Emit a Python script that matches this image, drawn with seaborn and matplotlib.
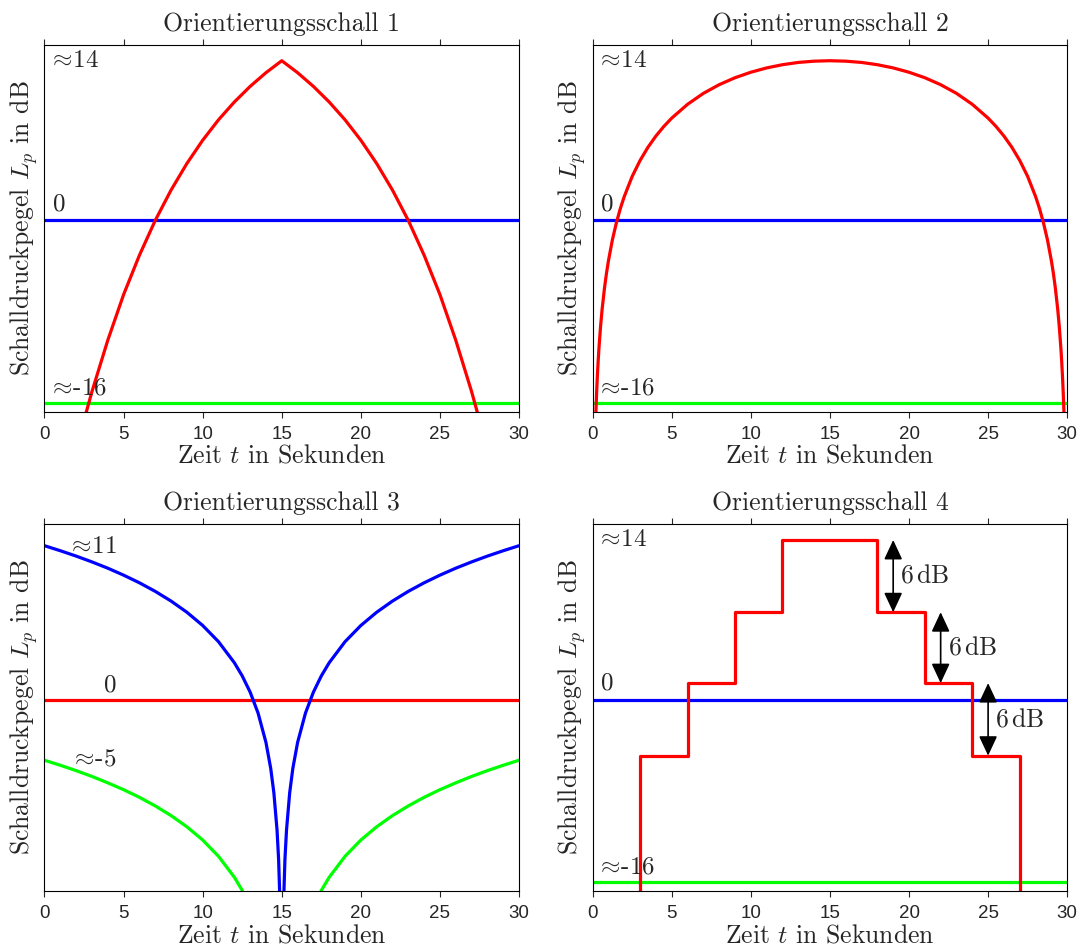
import matplotlib
matplotlib.use("Agg")
import matplotlib.pyplot as plt
import seaborn as sns

# ---------------------------
# Data (level in dB over time in s)
# ---------------------------
t_span = [0, 30]
level_zero = [0.0, 0.0]
level_floor = [-16.0, -16.0]

# Orientierungsschall 1: cusp at 15 s
t_cusp = [2.5, 3, 4, 5, 6, 7, 8, 9, 10, 11, 12, 13, 14, 15,
          16, 17, 18, 19, 20, 21, 22, 23, 24, 25, 26, 27, 27.5]
L_cusp = [-17.5, -15.0, -10.5, -6.5, -3.05, 0.0, 2.66, 4.99, 7.03, 8.82, 10.38, 11.75, 12.95, 14.0,
          12.95, 11.75, 10.38, 8.82, 7.03, 4.99, 2.66, 0.0, -3.05, -6.5, -10.5, -15.0, -17.5]

# Orientierungsschall 2: dome
t_dome = [0.15, 0.2, 0.25, 0.3, 0.35, 0.4, 0.5, 0.6, 0.75, 0.875, 1, 1.25, 1.5, 1.75, 2, 2.5, 3, 3.5,
          4, 4.5, 5, 6, 7, 8, 9, 10, 11, 12, 13, 14, 15,
          16, 17, 18, 19, 20, 21, 22, 23, 24, 25, 25.5, 26, 26.5, 27, 27.5, 28, 28.25, 28.5, 28.75,
          29, 29.125, 29.25, 29.4, 29.5, 29.6, 29.65, 29.7, 29.75, 29.8, 29.85]
L_dome = [-19.5, -17.07, -15.17, -13.6, -12.32, -11.19, -9.31, -7.78, -5.92, -4.63, -3.53, -1.69,
          -0.21, 1.04, 2.1, 3.86, 5.26, 6.42, 7.40, 8.24, 8.97, 10.18, 11.14,
          11.90, 12.51, 12.99, 13.37, 13.65, 13.85, 13.96, 14.0,
          13.96, 13.85, 13.65, 13.37, 12.99, 12.51, 11.90, 11.14, 10.18, 8.97, 8.24, 7.40, 6.42,
          5.26, 3.86, 2.1, 1.04, -0.21, -1.69,
          -3.53, -4.63, -5.92, -7.78, -9.31, -11.19, -12.32, -13.6, -15.17, -17.07, -19.5]

# Orientierungsschall 3: dip at 15 s
t_dip = [0, 1, 2, 3, 4, 5, 6, 7, 8, 9, 10, 11, 12, 12.5, 13, 13.5, 14, 14.3, 14.5, 14.7, 14.8, 14.9,
         15.1, 15.2, 15.3, 15.5, 15.7, 16, 16.5, 17, 17.5, 18, 19, 20, 21, 22, 23, 24, 25, 26, 27, 28, 29, 30]
L_dip_blue = [13.5, 13.06, 12.59, 12.08, 11.53, 10.92, 10.25, 9.50, 8.65, 7.67, 6.51, 5.09, 3.25, 2.09,
              0.67, -1.16, -3.74, -6.01, -8.15, -11.41, -13.99, -18.40,
              -18.40, -13.99, -11.41, -8.15, -6.01, -3.74, -1.16, 0.67, 2.09, 3.25, 5.09, 6.51, 7.67,
              8.65, 9.50, 10.25, 10.92, 11.53, 12.08, 12.59, 13.06, 13.5]
t_dip_green = [0, 1, 2, 3, 4, 5, 6, 7, 8, 9, 10, 11, 12, 12.5, 13,
               17, 17.5, 18, 19, 20, 21, 22, 23, 24, 25, 26, 27, 28, 29, 30]
L_dip_green = [-5.3, -5.74, -6.21, -6.72, -7.28, -7.88, -8.55, -9.30, -10.15, -11.13, -12.29, -13.72,
               -15.55, -16.71, -18.13,
               -18.13, -16.71, -15.55, -13.72, -12.29, -11.13, -10.15, -9.30, -8.55, -7.88, -7.28,
               -6.72, -6.21, -5.74, -5.3]

# Orientierungsschall 4: 6 dB steps
step_t = [3, 3, 6, 9, 12, 18, 21, 24, 27]
step_L = [-30.0, -4.9, 1.46, 7.67, 14.0, 7.67, 1.46, -4.9, -30.0]
arrow_t = [19, 22, 25]
arrow_top = [14.0, 7.67, 1.46]
arrow_bottom = [7.67, 1.46, -4.9]

titles = ["Orientierungsschall 1", "Orientierungsschall 2",
          "Orientierungsschall 3", "Orientierungsschall 4"]

RED, BLUE, GREEN = "#ff0000", "#0000ff", "#00ff00"
LW = 2.3

# ---------------------------
# Style
# ---------------------------
sns.set_style("ticks")
plt.rcParams["font.family"] = ["cmr10", "DejaVu Serif"]
plt.rcParams["mathtext.fontset"] = "cm"
plt.rcParams["axes.unicode_minus"] = False
plt.rcParams["axes.linewidth"] = 0.8

fig, axes = plt.subplots(2, 2, figsize=(10.85, 9.5), dpi=100)
fig.subplots_adjust(left=0.041, right=0.9836, bottom=0.0621, top=0.9529,
                    wspace=0.155, hspace=0.306)
ax1, ax2, ax3, ax4 = axes.flat


def line(ax, x, y, color, **kw):
    sns.lineplot(x=x, y=y, ax=ax, color=color, lw=LW, estimator=None,
                 sort=False, legend=False, **kw)


# panel 1
line(ax1, t_span, level_zero, BLUE)
line(ax1, t_span, level_floor, GREEN)
line(ax1, t_cusp, L_cusp, RED)

# panel 2
line(ax2, t_span, level_zero, BLUE)
line(ax2, t_span, level_floor, GREEN)
line(ax2, t_dome, L_dome, RED)

# panel 3
line(ax3, t_span, level_zero, RED)
line(ax3, t_dip, L_dip_blue, BLUE)
line(ax3, t_dip_green, L_dip_green, GREEN)

# panel 4
line(ax4, t_span, level_zero, BLUE)
line(ax4, t_span, level_floor, GREEN)
line(ax4, step_t, step_L, RED, drawstyle="steps-post")
for x, top, bot in zip(arrow_t, arrow_top, arrow_bottom):
    ax4.annotate("", xy=(x, bot), xytext=(x, top),
                 arrowprops=dict(arrowstyle="<|-|>,head_length=0.6,head_width=0.28",
                                 mutation_scale=20, color="black", lw=1.2,
                                 shrinkA=0, shrinkB=0))
    ax4.text(x + 0.45, (top + bot) / 2, r"6$\,$dB", fontsize=18.5, va="center", ha="left")

# level labels
FS = 18
APPROX = r"$\!\approx\!$"
for ax in (ax1, ax2, ax4):
    ax.text(0.45, 14.0, APPROX + "14", fontsize=FS, va="center", ha="left")
    ax.text(0.55, 1.4, "0", fontsize=FS, va="center", ha="left")
    ax.text(0.45, -14.7, APPROX + "-16", fontsize=FS, va="center", ha="left")
ax3.text(1.65, 13.4, APPROX + "11", fontsize=FS, va="center", ha="left")
ax3.text(3.75, 1.25, "0", fontsize=FS, va="center", ha="left")
ax3.text(1.85, -5.25, APPROX + "-5", fontsize=FS, va="center", ha="left")

for ax, title in zip(axes.flat, titles):
    ax.set_xlim(0, 30)
    ax.set_ylim(-16.76, 15.4)
    ax.set_xticks(range(0, 31, 5))
    ax.set_yticks([])
    ax.tick_params(axis="x", direction="out", length=4, width=0.8, top=True,
                   labeltop=False, labelsize=13.5, pad=6,
                   labelfontfamily="Liberation Sans")
    ax.set_title(title, fontsize=18.5, pad=10)
    ax.set_xlabel(r"Zeit $t$ in Sekunden", fontsize=18.5, labelpad=1)
    ax.set_ylabel(r"Schalldruckpegel $L_p$ in dB", fontsize=18.5, labelpad=3)
    for s in ax.spines.values():
        s.set_color("black")

plt.savefig("out.png", dpi=100)
plt.close()
